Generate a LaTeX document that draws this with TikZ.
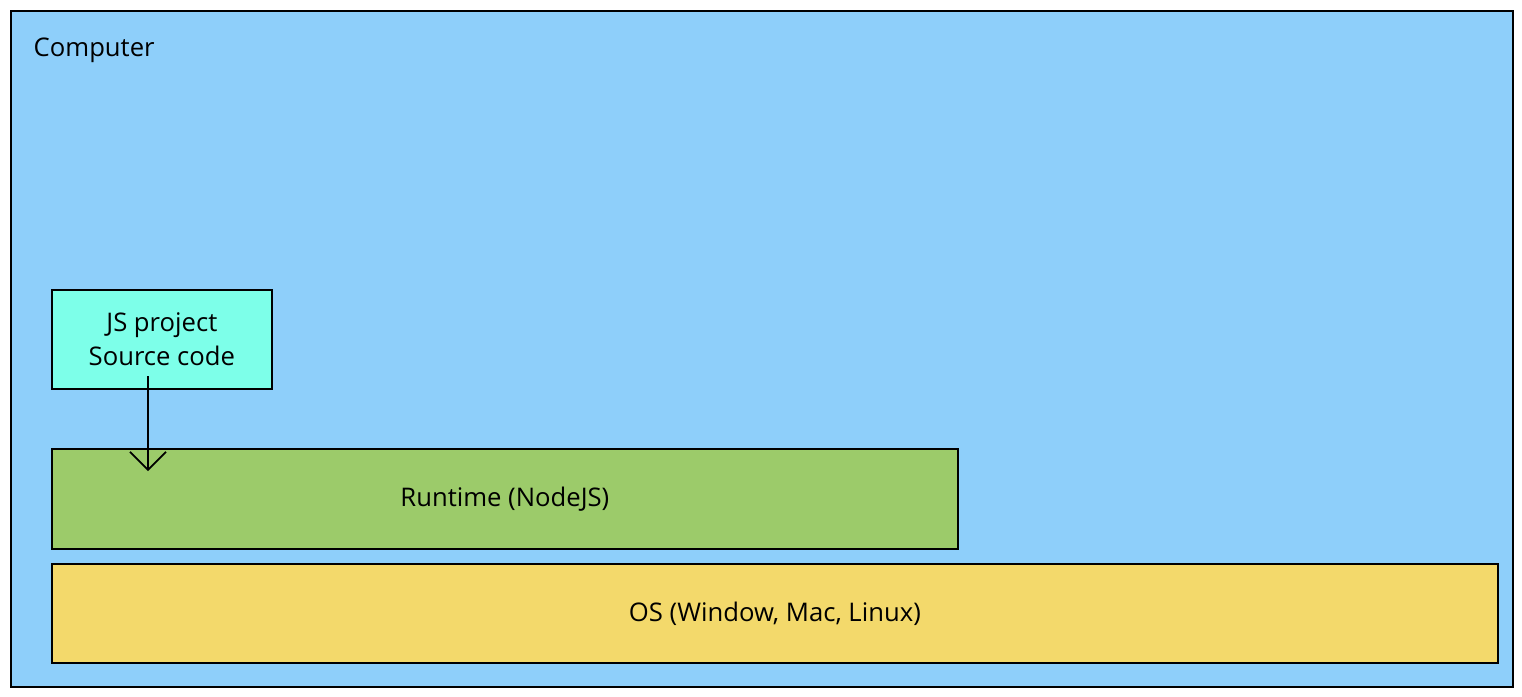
\documentclass[tikz,border=0pt]{standalone}
\usepackage{fontspec}
\setmainfont{Open Sans}
\usetikzlibrary{arrows.meta,positioning}

\definecolor{pcblue}{HTML}{8ECFFA}
\definecolor{jscyan}{HTML}{7DFFE9}
\definecolor{rtgreen}{HTML}{9CCB6A}
\definecolor{osyellow}{HTML}{F3D96B}

\tikzset{
  layer/.style={draw=black, line width=0.5pt, anchor=north west, inner sep=0pt},
  label/.style={font=\fontsize{7.3}{9.5}\selectfont, align=center}
}

\begin{document}
\begin{tikzpicture}
   \useasboundingbox (0,0) rectangle (15.22,-6.96);

   % outer box
   \node[layer, fill=pcblue, minimum width=15.02cm, minimum height=6.76cm] (computer) at (0.10,-0.10) {};
   \node[label, anchor=west, inner sep=0pt] (computertext) at (0.33,-0.50) {Computer};

   % layers
   \node[layer, fill=jscyan, minimum width=2.20cm, minimum height=0.99cm] (js) at (0.51,-2.89) {};
   \node[label] (jstext) at (js.center) {JS project\\Source code};

   \node[layer, fill=rtgreen, minimum width=9.06cm, minimum height=1.00cm] (runtime) at (0.51,-4.48) {};
   \node[label] (runtimetext) at (runtime.center) {Runtime (NodeJS)};

   \node[layer, fill=osyellow, minimum width=14.46cm, minimum height=0.99cm] (os) at (0.51,-5.63) {};
   \node[label] (ostext) at (os.center) {OS (Window, Mac, Linux)};

   % arrow
   \coordinate (src) at (1.48,-3.76);
   \coordinate (dst) at (1.48,-4.71);
   \draw[line width=0.5pt, -{Straight Barb[length=1.8mm, width=3.6mm]}] (src) -- (dst);

 \end{tikzpicture}
\end{document}
